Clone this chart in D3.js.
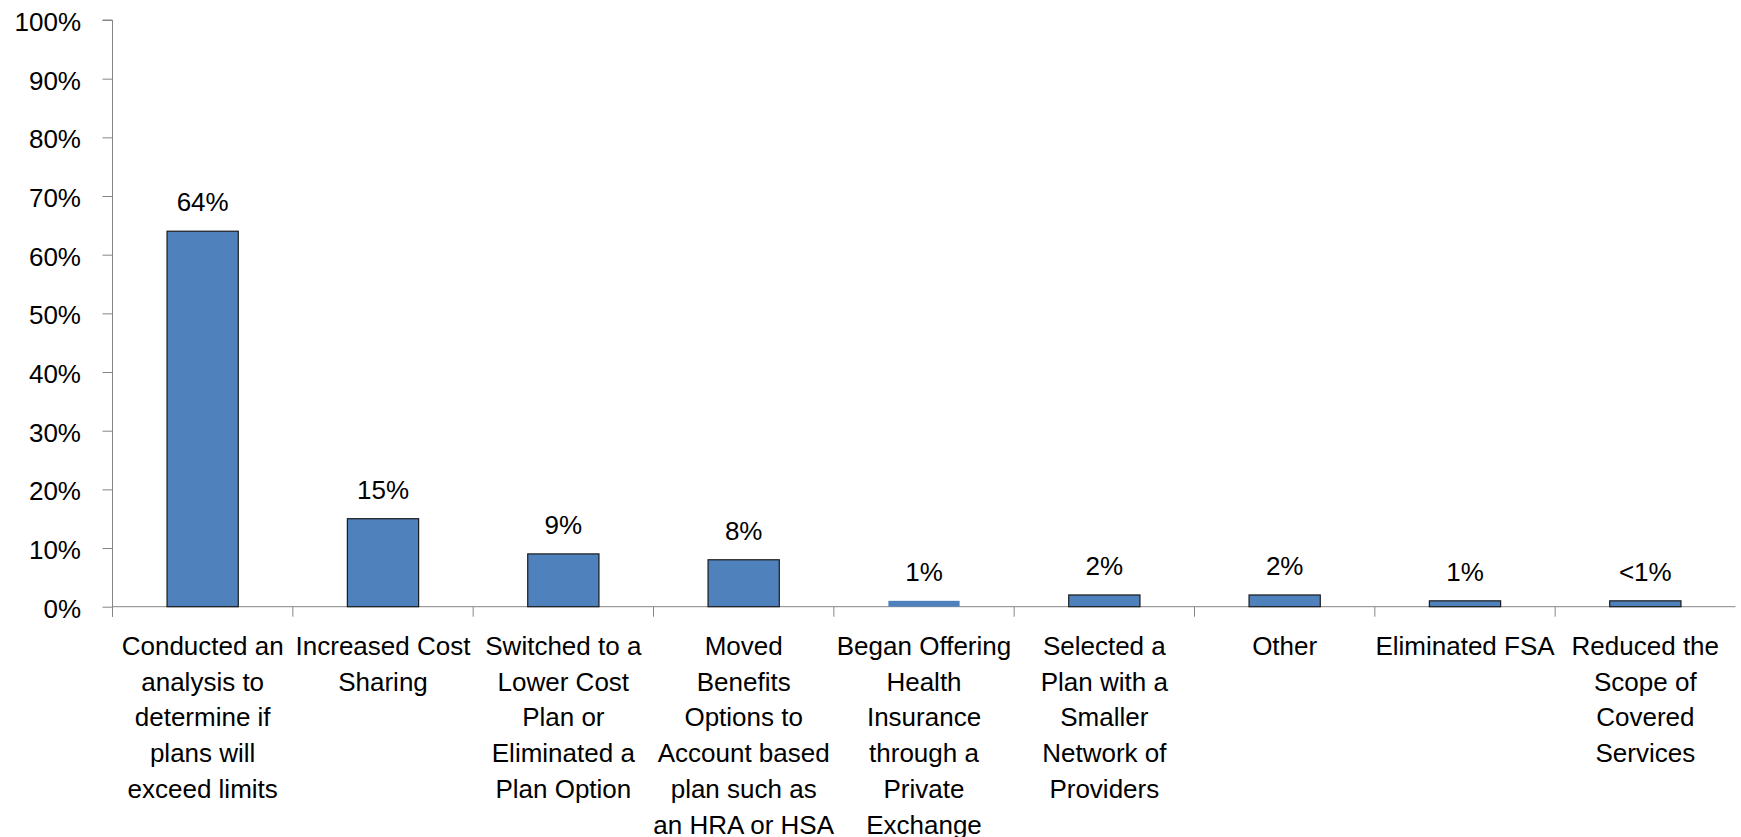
<!DOCTYPE html>
<html>
<head>
<meta charset="utf-8">
<script src="https://cdn.jsdelivr.net/npm/d3@7"></script>
<style>
  html, body { margin: 0; padding: 0; background: #fff; }
  svg { display: block; }
  text { font-family: "Liberation Sans", Arial, sans-serif; fill: #000; }
</style>
</head>
<body>
<svg id="chart" width="1741" height="837"></svg>
<script>
// ---- Data ----
const categories = [
  "Conducted an\nanalysis to\ndetermine if\nplans will\nexceed limits",
  "Increased Cost\nSharing",
  "Switched to a\nLower Cost\nPlan or\nEliminated a\nPlan Option",
  "Moved\nBenefits\nOptions to\nAccount based\nplan such as\nan HRA or HSA",
  "Began Offering\nHealth\nInsurance\nthrough a\nPrivate\nExchange",
  "Selected a\nPlan with a\nSmaller\nNetwork of\nProviders",
  "Other",
  "Eliminated FSA",
  "Reduced the\nScope of\nCovered\nServices"
];
const values = [64, 15, 9, 8, 1, 2, 2, 1, 1];
const valueLabels = ["64%", "15%", "9%", "8%", "1%", "2%", "2%", "1%", "<1%"];
const yTicks = [0, 10, 20, 30, 40, 50, 60, 70, 80, 90, 100];

(function () {
// ---- Layout ----
const svg = d3.select("#chart");
const mLeft = 112.5, mRight = 1735.5, mTop = 20, mBottom = 606.7;

const x = d3.scaleBand().domain(d3.range(categories.length)).range([mLeft, mRight]).padding(0);
const y = d3.scaleLinear().domain([0, 100]).range([mBottom, mTop]);
const barW = x.bandwidth() * 0.395;
const fontSize = 26;

// Y axis
const yAxis = svg.append("g")
  .attr("transform", `translate(${mLeft},0)`)
  .call(d3.axisLeft(y).tickValues(yTicks).tickFormat(d => d + "%").tickSize(10).tickPadding(21.5));
yAxis.select(".domain").attr("stroke", "#868686").attr("d", `M-10,${mTop}H0V${mBottom + 10}`);
yAxis.selectAll(".tick line").attr("stroke", "#868686");
yAxis.selectAll(".tick text")
  .attr("font-size", fontSize)
  .attr("font-family", "Liberation Sans, Arial, sans-serif")
  .attr("fill", "#000")
  .attr("dy", "0.4em");

// X axis line and boundary ticks
const xg = svg.append("g");
xg.append("line")
  .attr("x1", mLeft).attr("x2", mRight)
  .attr("y1", mBottom).attr("y2", mBottom)
  .attr("stroke", "#868686");
xg.selectAll("line.tick")
  .data(d3.range(categories.length))
  .join("line")
  .attr("class", "tick")
  .attr("x1", i => x(i)).attr("x2", i => x(i))
  .attr("y1", mBottom).attr("y2", mBottom + 10)
  .attr("stroke", "#868686");

// Bars
svg.append("g").selectAll("rect")
  .data(values)
  .join("rect")
  .attr("x", (d, i) => x(i) + x.bandwidth() / 2 - barW / 2)
  .attr("y", d => y(d))
  .attr("width", barW)
  .attr("height", d => y(0) - y(d))
  .attr("fill", "#4F81BD")
  .attr("stroke", (d, i) => i === 4 ? "none" : "#1a1a1a")
  .attr("stroke-width", 1.2);

// Value labels
svg.append("g").selectAll("text")
  .data(values)
  .join("text")
  .attr("x", (d, i) => x(i) + x.bandwidth() / 2)
  .attr("y", d => y(d) - 20)
  .attr("text-anchor", "middle")
  .attr("font-size", fontSize)
  .text((d, i) => valueLabels[i]);

// Category labels
const lineH = 35.7;
const catG = svg.append("g").selectAll("text")
  .data(categories)
  .join("text")
  .attr("x", (d, i) => x(i) + x.bandwidth() / 2)
  .attr("y", mBottom + 48.3)
  .attr("text-anchor", "middle")
  .attr("font-size", fontSize);
catG.each(function (d, i) {
  const t = d3.select(this);
  d.split("\n").forEach((line, k) => {
    t.append("tspan")
      .attr("x", x(i) + x.bandwidth() / 2)
      .attr("y", mBottom + 48.3 + k * lineH)
      .text(line);
  });
});
})();
</script>
</body>
</html>
